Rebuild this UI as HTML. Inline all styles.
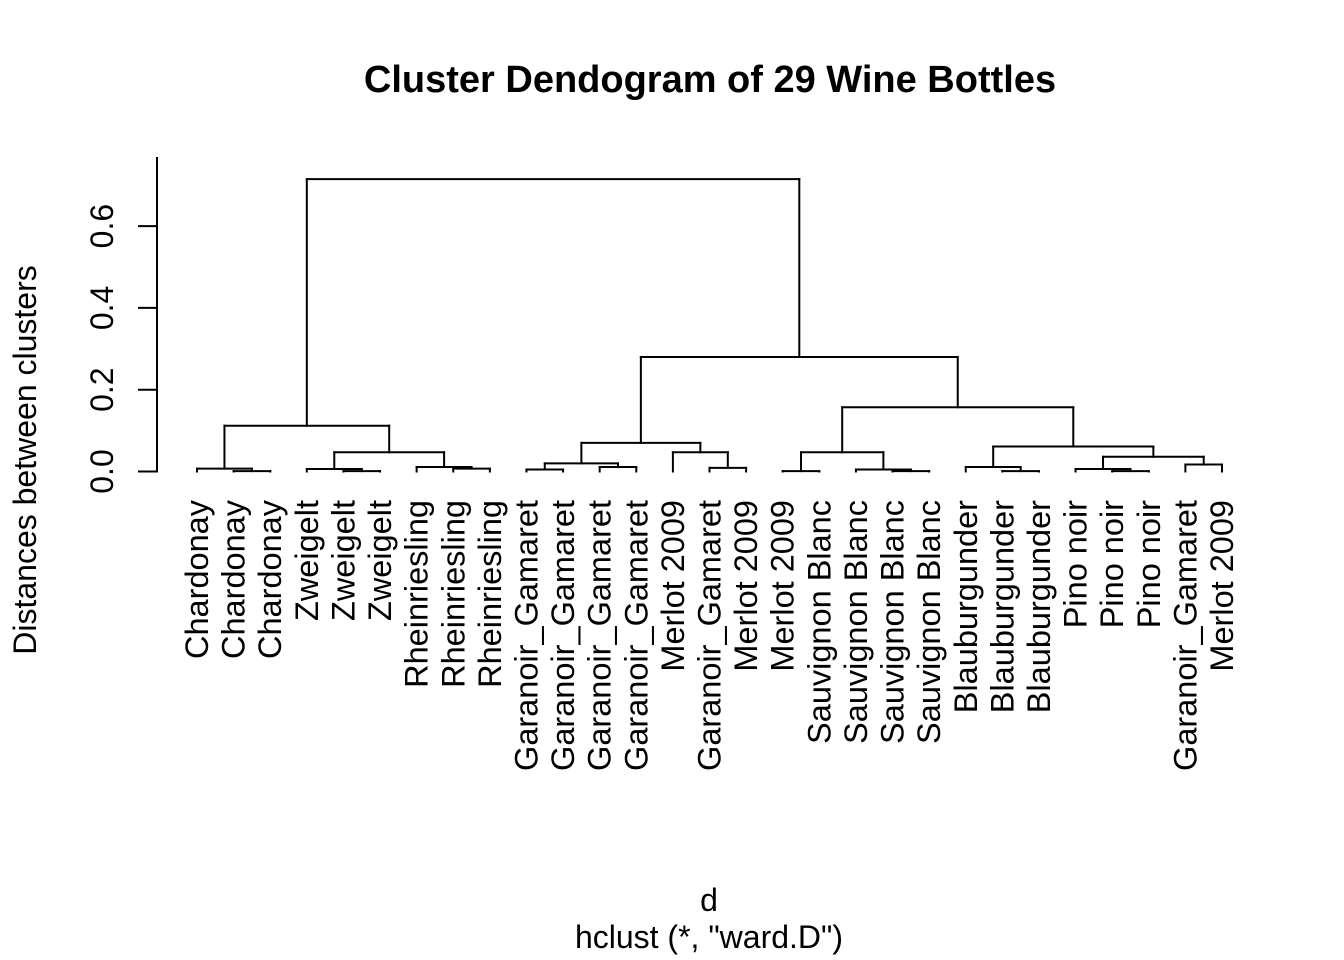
<!DOCTYPE html>
<html><head><meta charset="utf-8"><style>
html,body{margin:0;padding:0;background:#fff;}
svg{display:block;font-family:"Liberation Sans",Arial,sans-serif;}
</style></head><body>
<svg id="chart" width="1344" height="960" viewBox="0 0 1344 960">
<text x="710" y="92" text-anchor="middle" font-size="38" font-weight="bold">Cluster Dendogram of 29 Wine Bottles</text>
<text transform="translate(36,460) rotate(-90)" text-anchor="middle" font-size="32">Distances between clusters</text>
<text x="709" y="911" text-anchor="middle" font-size="32">d</text>
<text x="709" y="948" text-anchor="middle" font-size="32">hclust (*, "ward.D")</text>
<g id="axis"></g>
<g id="tree"></g>
<g id="labels"></g>
</svg>
<script>
const leafLabels = ["Chardonay","Chardonay","Chardonay","Zweigelt","Zweigelt","Zweigelt","Rheinriesling","Rheinriesling","Rheinriesling","Garanoir_Gamaret","Garanoir_Gamaret","Garanoir_Gamaret","Garanoir_Gamaret","Merlot 2009","Garanoir_Gamaret","Merlot 2009","Merlot 2009","Sauvignon Blanc","Sauvignon Blanc","Sauvignon Blanc","Sauvignon Blanc","Blauburgunder","Blauburgunder","Blauburgunder","Pino noir","Pino noir","Pino noir","Garanoir_Gamaret","Merlot 2009"];
// merges: negative = leaf index (-(i+1)), positive = earlier merge (1-based)
const merges = [
 [-2,-3],[-1,1],[-5,-6],[-4,3],[-8,-9],[-7,5],[4,6],[2,7],
 [-10,-11],[-12,-13],[9,10],[-15,-16],[-14,12],[11,13],
 [-17,-18],[-20,-21],[-19,16],[15,17],
 [-23,-24],[-22,19],[-26,-27],[-25,21],[-28,-29],[22,23],[20,24],[18,25],
 [14,26],[8,27]
];
const heights = [0.001,0.007,0.001,0.006,0.007,0.011,0.047,0.112,
 0.005,0.011,0.020,0.009,0.047,0.070,
 0.001,0.001,0.005,0.047,
 0.001,0.011,0.001,0.006,0.017,0.036,0.061,0.157,
 0.280,0.715];
const yTicks = [0,0.2,0.4,0.6];
const yTickLabels = ["0.0","0.2","0.4","0.6"];

const NS="http://www.w3.org/2000/svg";
const x0=197, x1=1222;
const xLeaf = i => x0 + (x1-x0)*i/(leafLabels.length-1);
const yScale = h => 471.5 - 409*h;

const axis=document.getElementById('axis');
function line(g,xa,ya,xb,yb,name){
  const l=document.createElementNS(NS,'line');
  l.setAttribute('x1',xa);l.setAttribute('y1',ya);l.setAttribute('x2',xb);l.setAttribute('y2',yb);
  l.setAttribute('stroke','#000');l.setAttribute('stroke-width','2');l.setAttribute('stroke-linecap','square');
  
  
  g.appendChild(l);return l;
}
line(axis,157,yScale(0),157,158,'y-axis-line');
yTicks.forEach((t,i)=>{
  line(axis,139,yScale(t),157,yScale(t),'y-tick');
  const tx=document.createElementNS(NS,'text');
  tx.setAttribute('transform',`translate(113,${yScale(t)}) rotate(-90)`);
  tx.setAttribute('text-anchor','middle');tx.setAttribute('font-size','32');
  tx.textContent=yTickLabels[i];
  
  
  axis.appendChild(tx);
});

const tree=document.getElementById('tree');
const pos=[];
function nodeInfo(id){
  if(id<0) return {x:xLeaf(-id-1),h:0};
  return pos[id-1];
}
merges.forEach((m,k)=>{
  const a=nodeInfo(m[0]), b=nodeInfo(m[1]), h=heights[k], y=yScale(h);
  line(tree,a.x,yScale(a.h),a.x,y,'branch');
  line(tree,b.x,yScale(b.h),b.x,y,'branch');
  line(tree,a.x,y,b.x,y,'merge-bar');
  pos.push({x:(a.x+b.x)/2,h:h});
});

const labels=document.getElementById('labels');
leafLabels.forEach((s,i)=>{
  const tx=document.createElementNS(NS,'text');
  tx.setAttribute('transform',`translate(${xLeaf(i)+11},500) rotate(-90)`);
  tx.setAttribute('text-anchor','end');tx.setAttribute('font-size','32.5');
  tx.textContent=s;
  
  
  labels.appendChild(tx);
});
</script>
</body></html>
